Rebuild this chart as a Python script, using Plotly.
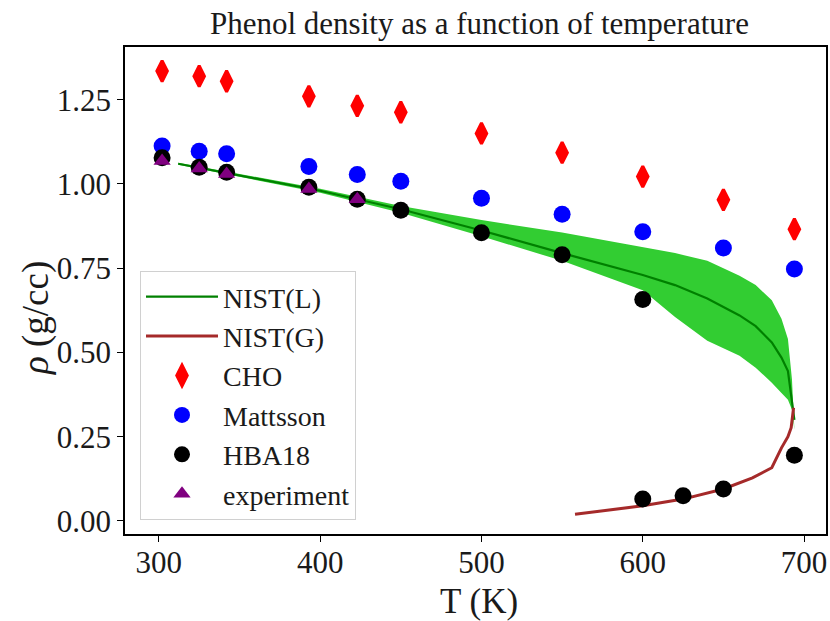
import plotly.graph_objects as go

# ---- data ----
T_sim = [302, 325, 342, 393, 423, 450, 500, 550, 600, 650, 694]
rho_cho = [1.335, 1.320, 1.305, 1.260, 1.232, 1.213, 1.150, 1.093, 1.022, 0.953, 0.866]
rho_mattsson = [1.113, 1.097, 1.090, 1.052, 1.028, 1.008, 0.958, 0.910, 0.858, 0.810, 0.748]

T_hba = [302, 325, 342, 393, 423, 450, 500, 550, 600, 600, 625, 650, 694]
rho_hba = [1.078, 1.050, 1.035, 0.990, 0.955, 0.922, 0.855, 0.790, 0.657, 0.065, 0.075, 0.095, 0.195]

T_exp = [302, 325, 342, 393, 423]
rho_exp = [1.068, 1.046, 1.030, 0.985, 0.955]

T_liq = [312, 350, 400, 450, 500, 550, 600, 620, 640, 660, 670, 680, 686, 690, 692.5, 694]
rho_liq = [1.060, 1.025, 0.980, 0.925, 0.862, 0.795, 0.730, 0.700, 0.660, 0.610, 0.578, 0.530, 0.485, 0.445, 0.360, 0.300]
rho_liq_up = [1.063, 1.029, 0.986, 0.935, 0.893, 0.856, 0.813, 0.795, 0.772, 0.728, 0.700, 0.655, 0.600, 0.540, 0.420, 0.270]
rho_liq_lo = [1.057, 1.021, 0.974, 0.915, 0.845, 0.772, 0.685, 0.605, 0.535, 0.490, 0.455, 0.410, 0.380, 0.360, 0.330, 0.270]

T_gas = [558, 600, 625, 650, 668, 680, 686, 690, 692, 693.5]
rho_gas = [0.020, 0.045, 0.065, 0.095, 0.128, 0.158, 0.217, 0.250, 0.277, 0.336]

FONT = "Liberation Serif"
TXT = "#1a1a1a"

# body margin is removed by the post script, so the figure fills the window
W, H = 830, 621
L, R, T, B = 125, 826, 47, 534
PW, PH = R - L, B - T


def px(x):
    return (x - L) / PW


def py(y):
    return (B - y) / PH


fig = go.Figure()

# band
fig.add_trace(go.Scatter(
    x=T_liq + T_liq[::-1], y=rho_liq_up + rho_liq_lo[::-1],
    fill="toself", fillcolor="#32CD32", line=dict(width=0),
    mode="lines", showlegend=False, hoverinfo="skip"))

fig.add_trace(go.Scatter(x=T_liq, y=rho_liq, mode="lines", name="NIST(L)",
                         line=dict(color="green", width=2.2)))
fig.add_trace(go.Scatter(x=T_gas, y=rho_gas, mode="lines", name="NIST(G)",
                         line=dict(color="#A52A2A", width=3)))
fig.add_trace(go.Scatter(x=T_sim, y=rho_cho, mode="markers", name="CHO",
                         marker=dict(symbol="diamond-tall", color="red", size=15,
                                     line=dict(color="red", width=3))))
fig.add_trace(go.Scatter(x=T_sim, y=rho_mattsson, mode="markers", name="Mattsson",
                         marker=dict(symbol="circle", color="blue", size=17, line=dict(width=0))))
fig.add_trace(go.Scatter(x=T_hba, y=rho_hba, mode="markers", name="HBA18",
                         marker=dict(symbol="circle", color="black", size=17, line=dict(width=0))))
fig.add_trace(go.Scatter(x=T_exp, y=rho_exp, mode="markers", name="experiment",
                         marker=dict(symbol="triangle-up", color="purple", size=15, line=dict(width=0))))

axis_common = dict(showline=True, linecolor="black", linewidth=1.5, mirror=True,
                   ticks="outside", ticklen=6, tickwidth=1.2, tickcolor="black", showgrid=False,
                   zeroline=False, tickfont=dict(family=FONT, size=31, color=TXT))

fig.update_layout(
    width=W, height=H,
    margin=dict(l=L, r=W - R, t=T, b=H - B, autoexpand=False),
    plot_bgcolor="white", paper_bgcolor="white",
    xaxis=dict(range=[279, 713.6], dtick=100, tick0=300, ticklabelstandoff=-6, **axis_common),
    yaxis=dict(range=[-0.0386, 1.4065], dtick=0.25, tick0=0, tickformat=".2f", **axis_common),
    legend=dict(x=px(140), y=py(520), xanchor="left", yanchor="bottom",
                bgcolor="white", bordercolor="#d0d0d0", borderwidth=1,
                font=dict(family=FONT, size=28, color=TXT), tracegroupgap=0,
                itemwidth=72),
    annotations=[
        dict(text="Phenol density as a function of temperature", x=px(479), y=py(24),
             xref="paper", yref="paper", showarrow=False, xanchor="center", yanchor="middle",
             font=dict(family=FONT, size=31, color=TXT)),
        dict(text="T (K)", x=px(479), y=py(601),
             xref="paper", yref="paper", showarrow=False, xanchor="center", yanchor="middle",
             font=dict(family=FONT, size=35, color=TXT)),
        dict(text="<i>ρ</i> (g/cc)", x=px(36), y=py(318), textangle=-90,
             xref="paper", yref="paper", showarrow=False, xanchor="center", yanchor="middle",
             font=dict(family=FONT, size=37, color=TXT)),
    ],
)

fig.write_html("out.html", config={"displayModeBar": False},
               post_script="document.body.style.margin='0';document.body.style.overflow='hidden';")
